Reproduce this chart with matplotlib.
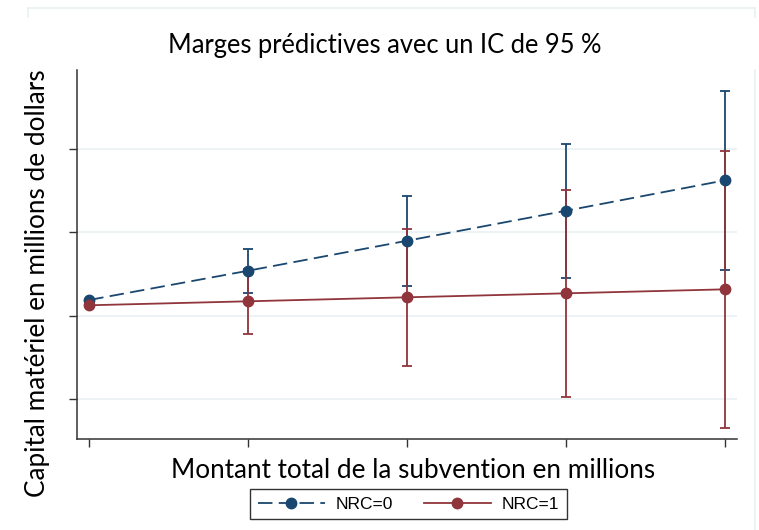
import numpy as np
import matplotlib
matplotlib.use('Agg')
import matplotlib.pyplot as plt
from matplotlib.lines import Line2D

# subsidy levels (no tick labels on the original)
x = [0, 1, 2, 3, 4]

# NRC=0 : predictive margin and 95% CI
nrc0_est = [2.188, 2.540, 2.901, 3.262, 3.628]
nrc0_lo = [2.188, 2.275, 2.359, 2.456, 2.551]
nrc0_hi = [2.188, 2.805, 3.443, 4.068, 4.705]

# NRC=1
nrc1_est = [2.124, 2.172, 2.220, 2.268, 2.316]
nrc1_lo = [2.124, 1.783, 1.399, 1.024, 0.644]
nrc1_hi = [2.124, 2.561, 3.041, 3.512, 3.984]

yticks = [1, 2, 3, 4]

blue = '#1a476f'
red = '#90353b'
txtfont = 'Lato'

fig = plt.figure(figsize=(7.59, 5.30), dpi=100)
ax = fig.add_axes([77/759, 1-439/530, 660/759, 369/530])

for est, lo, hi, col, z in [(nrc0_est, nrc0_lo, nrc0_hi, blue, 2),
                            (nrc1_est, nrc1_lo, nrc1_hi, red, 3)]:
    est = np.array(est)
    err = [est - np.array(lo), np.array(hi) - est]
    ax.errorbar(x, est, yerr=err, fmt='none', ecolor=col, elinewidth=1.3,
                capsize=3.5, capthick=1.3, zorder=z)

ax.plot(x, nrc0_est, color=blue, lw=1.3, dashes=(8, 3.5), marker='o',
        ms=7.5, zorder=4, label='NRC=0')
ax.plot(x, nrc1_est, color=red, lw=1.3, marker='o', ms=7.5, zorder=5,
        label='NRC=1')

ax.set_xlim(-0.077, 4.074)
ax.set_ylim(0.515, 4.955)
ax.set_xticks(x)
ax.set_yticks(yticks)
ax.set_xticklabels([])
ax.set_yticklabels([])
ax.tick_params(direction='out', length=5.5, width=1, color='#333333')
ax.grid(axis='y', color='#eaf0f3', lw=1.2, zorder=0)
ax.set_axisbelow(True)
for s in ['top', 'right']:
    ax.spines[s].set_visible(False)
for s in ['left', 'bottom']:
    ax.spines[s].set_color('#333333')
    ax.spines[s].set_linewidth(1.1)

fig.text(385/759, 1-45/530, 'Marges prédictives avec un IC de 95 %',
         ha='center', va='center', fontsize=18.4, family=txtfont)
fig.text(412.7/759, 1-478/530, 'Montant total de la subvention en millions',
         ha='center', va='baseline', fontsize=18.8, family=txtfont)
fig.text(50/759, 1-283/530, 'Capital matériel en millions de dollars',
         ha='right', va='center', rotation=90, fontsize=18.8, family=txtfont)

leg = fig.legend(loc='center', bbox_to_anchor=(408.5/759, 1-504/530), ncol=2,
                 prop={'family': 'Liberation Sans', 'size': 12.5},
                 handlelength=3.85, handletextpad=0.63, columnspacing=1.8,
                 borderpad=0.45, fancybox=False, frameon=True)
leg.get_frame().set_edgecolor('black')
leg.get_frame().set_linewidth(1)

# faint outer frame of the graph region
fc = '#eaf0f3'
fig.add_artist(Line2D([28/759, 755/759], [1-8/530, 1-8/530], color=fc, lw=1.2))
fig.add_artist(Line2D([28/759, 28/759], [1-8/530, 1-17/530], color=fc, lw=1.2))
fig.add_artist(Line2D([755/759, 755/759], [1-8/530, 1-17/530], color=fc, lw=1.2))
fig.add_artist(Line2D([755/759, 755/759], [1-70/530, 0], color=fc, lw=1.2))

fig.savefig('out.png', dpi=100)
